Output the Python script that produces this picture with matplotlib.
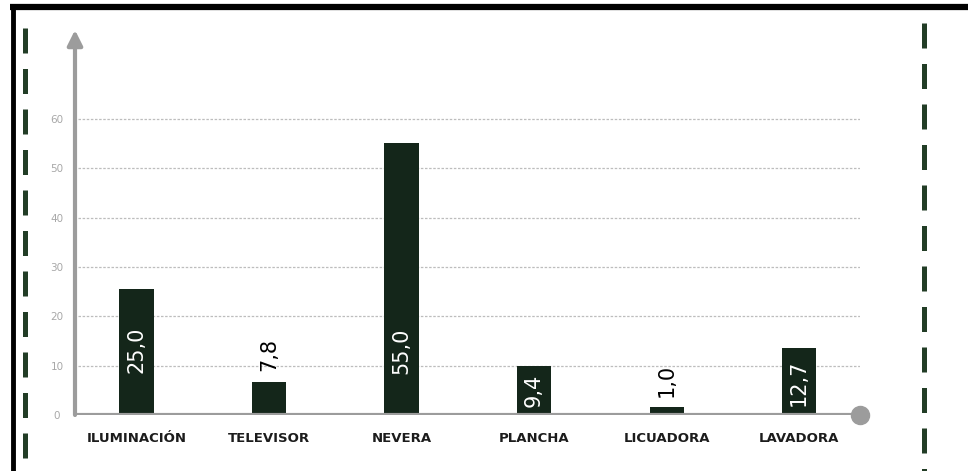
import numpy as np
import matplotlib
matplotlib.use("Agg")
import matplotlib.pyplot as plt
from matplotlib.lines import Line2D

# data
categories = ["ILUMINACIÓN", "TELEVISOR", "NEVERA", "PLANCHA", "LICUADORA", "LAVADORA"]
bar_heights = [25.6, 6.7, 55.2, 9.9, 1.6, 13.6]
value_labels = ["25,0", "7,8", "55,0", "9,4", "1,0", "12,7"]
yticks = [0, 10, 20, 30, 40, 50, 60]

# label placement (layout, not data)
label_y = [13.2, 12.2, 13.0, 4.9, 7.1, 6.5]
label_inside = [True, False, True, True, False, True]

W, H = 968, 471
fig = plt.figure(figsize=(W / 100, H / 100), dpi=100)
fig.patch.set_facecolor("white")

bar_col = "#14261a"
green = "#223d26"
axis_col = "#9c9c9c"

def px(x, y):
    return x / W, 1 - y / H

# axes placed so that the axis lines sit where they do in the picture
x0, x1 = 75, 860
y0, y1 = 415, 30
ax = fig.add_axes([x0 / W, 1 - y0 / H, (x1 - x0) / W, (y0 - y1) / H])
ax.set_xlim(-0.464, 5.46)
ax.set_ylim(0, 78)
for s in ax.spines.values():
    s.set_visible(False)

x = np.arange(len(categories))
ax.bar(x, bar_heights, width=0.257, color=bar_col, zorder=3)

# dotted grid
for t in yticks[1:]:
    ax.plot([-0.44, 5.46], [t, t], color="#bdbdbd", lw=0.9,
            dashes=(2, 1.3), zorder=1)

ax.set_yticks(yticks)
ax.set_yticklabels([str(t) for t in yticks], color="#a8a8a8", fontsize=7.5,
                   ha="center")
ax.tick_params(axis="y", length=0, pad=13)
ax.set_xticks(x)
ax.set_xticklabels(categories, fontsize=9.5, fontweight="bold", color="#1c1c1c")
ax.tick_params(axis="x", length=0, pad=12)

# axis lines
ax.axhline(0, color=axis_col, lw=3, zorder=4)
ax.plot([1], [0], "o", color=axis_col, ms=13, transform=ax.transAxes,
        clip_on=False, zorder=5)
ax.annotate("", xy=(0, 1), xycoords="axes fraction", xytext=(0, 0),
            arrowprops=dict(arrowstyle="-|>,head_length=0.9,head_width=0.45",
                            color=axis_col, lw=3, shrinkA=0, shrinkB=0),
            zorder=4)

for i, lab in enumerate(value_labels):
    ax.text(x[i], label_y[i], lab, rotation=90, ha="center", va="center",
            fontsize=15, color="white" if label_inside[i] else "black",
            zorder=3.5)

# frame: black top and left edges
fig.add_artist(Line2D([px(10, 7)[0], 1.0], [px(10, 7)[1]] * 2,
                      color="black", lw=4.5, solid_capstyle="butt"))
fig.add_artist(Line2D([px(12.5, 0)[0]] * 2, [px(0, 5)[1], 0.0],
                      color="black", lw=3.5, solid_capstyle="butt"))

# green dashed side lines
fig.add_artist(Line2D([px(25, 0)[0]] * 2, [px(0, 28)[1], 0.0],
                      color=green, lw=3.6, dashes=(5, 3.1), solid_capstyle="butt"))
fig.add_artist(Line2D([px(924, 0)[0]] * 2, [px(0, 23)[1], 0.0],
                      color=green, lw=3.6, dashes=(5, 3.1), solid_capstyle="butt"))

fig.savefig("out.png", dpi=100, facecolor="white")
